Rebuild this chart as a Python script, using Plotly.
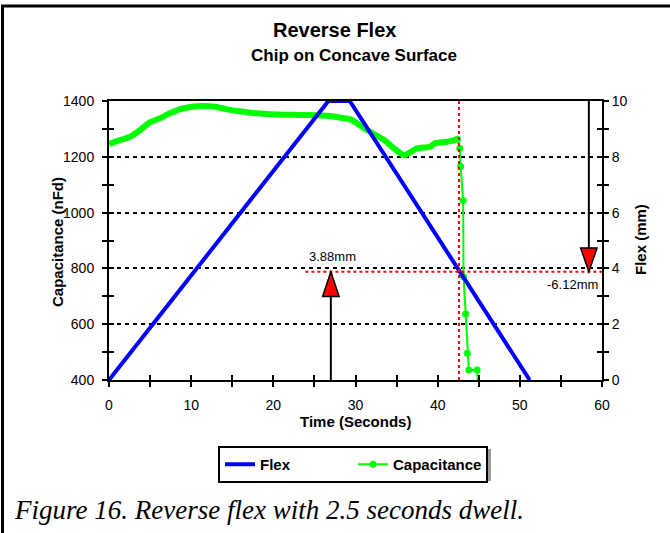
import plotly.graph_objects as go

# ---------------- data ----------------
flex_time = [0, 26.7, 29.3, 51.2]
flex_mm = [0, 10, 10, 0]

cap_time = [0, 1.3, 2.6, 3.8, 5.0, 6.2, 7.4, 9.1, 11.1, 12.7, 14.4, 16.0, 17.2, 19.2,
            21.3, 23.3, 25.3, 27.0, 28.2, 29.4, 31.4, 33.5, 34.7, 35.9, 37.5, 39.1,
            39.6, 41.2, 42.4,
            42.7, 42.8, 43.1, 43.15, 43.4, 43.6, 43.8, 44.8, 44.95]
cap_nfd = [1246, 1260, 1272, 1296, 1324, 1338, 1356, 1374, 1382, 1380, 1370, 1363, 1358, 1353,
           1351, 1350, 1349, 1346, 1340, 1334, 1296, 1260, 1230, 1206, 1230, 1236,
           1248, 1254, 1263,
           1230, 1165, 1043, 770, 637, 496, 436, 436, 360]
dense_count = 29  # readings before the breakdown (drawn as a thick band)

x_ticks = [0, 10, 20, 30, 40, 50, 60]
cap_ticks = [400, 600, 800, 1000, 1200, 1400]
flex_ticks = [0, 2, 4, 6, 8, 10]

failure_time = 42.6      # s, red vertical marker
failure_flex = 3.88      # mm, red horizontal marker
remaining_flex = -6.12   # mm
up_arrow_time = 27.0
down_arrow_time = 58.4

# ---------------- geometry helpers (pixel -> paper) ----------------
W, H = 670, 533
L, R, T, B = 109, 68, 101, 153
PW, PH = W - L - R, H - T - B


def px(x):
    return (x - L) / PW


def py(y):
    return (H - B - y) / PH


AX = "Liberation Sans, Arial, sans-serif"
fig = go.Figure()

fig.add_trace(go.Scatter(x=flex_time, y=flex_mm, yaxis="y2", mode="lines", name="Flex",
                         line=dict(color="#0000FF", width=4)))
fig.add_trace(go.Scatter(x=cap_time[:dense_count], y=cap_nfd[:dense_count], mode="lines",
                         showlegend=False, line=dict(color="#00FF00", width=6, shape="spline",
                                                     smoothing=0.6)))
fig.add_trace(go.Scatter(x=cap_time[dense_count - 1:], y=cap_nfd[dense_count - 1:],
                         mode="lines+markers", name="Capacitance",
                         line=dict(color="#00FF00", width=2),
                         marker=dict(color="#00FF00", size=7)))

tickfont = dict(family=AX, size=14, color="black")
common = dict(showgrid=False, zeroline=False, tickcolor="black", tickwidth=1.5, ticklen=5)

fig.update_layout(
    width=W, height=H,
    margin=dict(l=L, r=R, t=T, b=B, autoexpand=False),
    paper_bgcolor="white", plot_bgcolor="white",
    showlegend=True,
    xaxis=dict(range=[0, 60], tickvals=x_ticks, ticks="outside",
               minor=dict(dtick=5, ticks="outside", ticklen=5, tickcolor="black", tickwidth=1.5),
               showline=True, linecolor="black", linewidth=2, mirror=True,
               tickfont=tickfont, ticklabelstandoff=6, **common),
    xaxis2=dict(range=[0, 60], overlaying="x", anchor="y", side="bottom", tickvals=x_ticks,
                ticks="inside", showticklabels=False,
                minor=dict(dtick=5, ticks="inside", ticklen=5, tickcolor="black", tickwidth=1.5),
                showline=False, **common),
    yaxis=dict(range=[400, 1400], tickvals=cap_ticks, ticks="outside",
               minor=dict(dtick=100, ticks="outside", ticklen=5, tickcolor="black", tickwidth=1.5),
               showline=True, linecolor="black", linewidth=2,
               tickfont=tickfont, ticklabelstandoff=5,
               showgrid=True, gridcolor="black", gridwidth=1.5, griddash="4px,4px",
               zeroline=False, tickcolor="black", tickwidth=1.5, ticklen=5),
    yaxis2=dict(range=[0, 10], overlaying="y", side="right", anchor="x", tickvals=flex_ticks,
                ticks="outside",
                minor=dict(dtick=1, ticks="outside", ticklen=5, tickcolor="black", tickwidth=1.5),
                showline=True, linecolor="black", linewidth=2,
                tickfont=tickfont, ticklabelstandoff=0, **common),
    yaxis3=dict(range=[400, 1400], overlaying="y", side="left", anchor="x", tickvals=cap_ticks,
                ticks="inside", showticklabels=False,
                minor=dict(dtick=100, ticks="inside", ticklen=5, tickcolor="black", tickwidth=1.5),
                showline=False, **common),
    yaxis4=dict(range=[0, 10], overlaying="y", side="right", anchor="x", tickvals=flex_ticks,
                ticks="inside", showticklabels=False,
                minor=dict(dtick=1, ticks="inside", ticklen=5, tickcolor="black", tickwidth=1.5),
                showline=False, **common),
    legend=dict(orientation="h", x=px(218), y=py(446), xanchor="left", yanchor="top",
                bgcolor="white", bordercolor="black", borderwidth=2,
                font=dict(family=AX, size=15, color="black", weight="bold"),
                entrywidth=88, entrywidthmode="pixels", itemwidth=30,
                traceorder="normal"),
)

# dummy traces to make sure overlay axes render
fig.add_trace(go.Scatter(x=[None], y=[None], xaxis="x2", yaxis="y", showlegend=False,
                         hoverinfo="skip"))
fig.add_trace(go.Scatter(x=[None], y=[None], xaxis="x", yaxis="y3", showlegend=False,
                         hoverinfo="skip"))
fig.add_trace(go.Scatter(x=[None], y=[None], xaxis="x", yaxis="y4", showlegend=False,
                         hoverinfo="skip"))

shapes = []
red = dict(color="#FF0000", width=2, dash="3px,3px")
shapes.append(dict(type="line", xref="x", yref="paper", x0=failure_time, x1=failure_time,
                   y0=0, y1=1, line=red))
shapes.append(dict(type="line", xref="x", yref="y2", x0=23.9, x1=60,
                   y0=failure_flex, y1=failure_flex, line=red))
# up arrow
shapes.append(dict(type="line", xref="x", yref="y2", x0=up_arrow_time, x1=up_arrow_time,
                   y0=0, y1=3.0, line=dict(color="black", width=2)))
shapes.append(dict(type="path", xref="x", yref="y2",
                   path=f"M {up_arrow_time - 1.0},2.99 L {up_arrow_time + 1.0},2.99 "
                        f"L {up_arrow_time},{failure_flex} Z",
                   fillcolor="#FF0000", line=dict(color="black", width=1.5)))
# down arrow
shapes.append(dict(type="line", xref="x", yref="y2", x0=down_arrow_time, x1=down_arrow_time,
                   y0=10, y1=4.72, line=dict(color="black", width=2)))
shapes.append(dict(type="path", xref="x", yref="y2",
                   path=f"M {down_arrow_time - 1.0},4.73 L {down_arrow_time + 1.0},4.73 "
                        f"L {down_arrow_time},{failure_flex} Z",
                   fillcolor="#FF0000", line=dict(color="black", width=1.5)))
# legend shadow
shapes.append(dict(type="rect", xref="paper", yref="paper", x0=px(221), x1=px(491),
                   y0=py(481), y1=py(449), fillcolor="#999999", line=dict(width=0),
                   layer="below"))
# figure frame (top and left)
shapes.append(dict(type="line", xref="paper", yref="paper", x0=px(1), x1=px(670),
                   y0=py(6), y1=py(6), line=dict(color="black", width=3)))
shapes.append(dict(type="line", xref="paper", yref="paper", x0=px(2.5), x1=px(2.5),
                   y0=py(6), y1=py(533), line=dict(color="black", width=3)))
fig.update_layout(shapes=shapes)

ann = []
ann.append(dict(text="<b>Reverse Flex</b>", x=px(334), y=py(30), xref="paper", yref="paper",
                showarrow=False, font=dict(family=AX, size=20, color="black"),
                xanchor="center", yanchor="middle"))
ann.append(dict(text="<b>Chip on Concave Surface</b>", x=px(354), y=py(55), xref="paper",
                yref="paper", showarrow=False, font=dict(family=AX, size=17, color="black"),
                xanchor="center", yanchor="middle"))
ann.append(dict(text="<b>Time (Seconds)</b>", x=px(355), y=py(421), xref="paper", yref="paper",
                showarrow=False, font=dict(family=AX, size=15, color="black"),
                xanchor="center", yanchor="middle"))
ann.append(dict(text="<b>Capacitance (nFd)</b>", x=px(57), y=py(242), xref="paper",
                yref="paper", showarrow=False, textangle=-90,
                font=dict(family=AX, size=15, color="black"),
                xanchor="center", yanchor="middle"))
ann.append(dict(text="<b>Flex (mm)</b>", x=px(640), y=py(240), xref="paper", yref="paper",
                showarrow=False, textangle=-90, font=dict(family=AX, size=15, color="black"),
                xanchor="center", yanchor="middle"))
ann.append(dict(text=f"{failure_flex:.2f}mm", x=27.2, y=4.44, xref="x", yref="y2",
                showarrow=False, font=dict(family=AX, size=13, color="black"),
                xanchor="center", yanchor="middle"))
ann.append(dict(text=f"{remaining_flex:.2f}mm", x=px(600), y=py(284), xref="paper",
                yref="paper", showarrow=False, font=dict(family=AX, size=13, color="black"),
                xanchor="right", yanchor="middle"))
ann.append(dict(text="<i>Figure 16. Reverse flex with 2.5 seconds dwell.</i>", x=px(12),
                y=py(510), xref="paper", yref="paper", showarrow=False,
                font=dict(family="Liberation Serif, Times New Roman, serif", size=27,
                          color="black"),
                xanchor="left", yanchor="middle"))
fig.update_layout(annotations=ann)

fig.write_html("out.html", config={"displayModeBar": False},
               post_script="document.body.style.margin='0';")
